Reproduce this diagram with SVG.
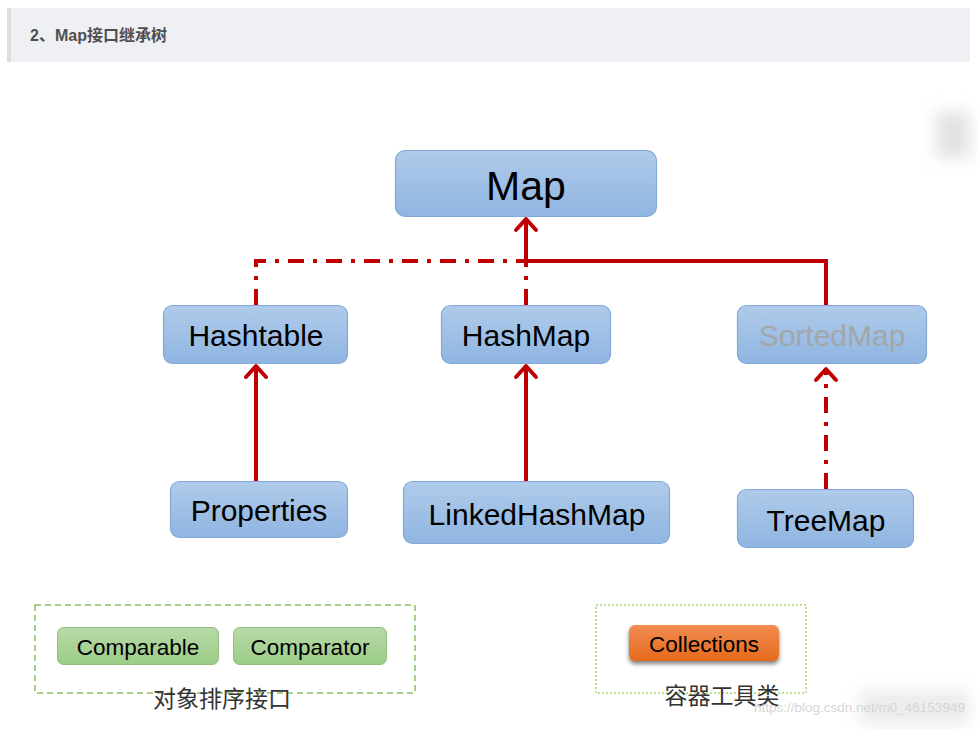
<svg xmlns="http://www.w3.org/2000/svg" width="977" height="729" viewBox="0 0 977 729">
<defs>
<linearGradient id="blue" x1="0" y1="0" x2="0" y2="1"><stop offset="0" stop-color="#b0cbea"/><stop offset="1" stop-color="#8fb5e1"/></linearGradient>
<linearGradient id="green" x1="0" y1="0" x2="0" y2="1"><stop offset="0" stop-color="#b7daa8"/><stop offset="1" stop-color="#9ccc87"/></linearGradient>
<linearGradient id="orange" x1="0" y1="0" x2="0" y2="1"><stop offset="0" stop-color="#f28d52"/><stop offset="1" stop-color="#e4691b"/></linearGradient>
<filter id="blur" x="-80%" y="-80%" width="260%" height="260%"><feGaussianBlur stdDeviation="8"/></filter>
<filter id="shadow" x="-20%" y="-30%" width="140%" height="180%"><feGaussianBlur in="SourceAlpha" stdDeviation="2"/><feOffset dx="0" dy="3"/><feComponentTransfer><feFuncA type="linear" slope="0.5"/></feComponentTransfer><feMerge><feMergeNode/><feMergeNode in="SourceGraphic"/></feMerge></filter>
</defs>
<style>
.bn{fill:url(#blue);stroke:#82a9d8;stroke-width:1.2}
.gn{fill:url(#green);stroke:#8fbf7c;stroke-width:1}
.t{font-family:"Liberation Sans",Arial,sans-serif;fill:#000;text-anchor:middle}
.solid{fill:none;stroke:#c00000;stroke-width:4}
.dd{fill:none;stroke:#c00000;stroke-width:4;stroke-dasharray:16 9 4 9}
.head{fill:none;stroke:#c00000;stroke-width:4;stroke-linecap:round;stroke-linejoin:round}
.cjk{font-family:"Noto Sans CJK SC",sans-serif;fill:#333;font-size:23px;text-anchor:middle}
</style>
<rect width="977" height="729" fill="#fff"/>
<g id="header">
<rect x="7" y="8" width="963" height="54" fill="#eff0f4"/>
<rect x="7" y="8" width="4" height="54" fill="#dcdde1"/>
<text x="30" y="41" font-family="'Liberation Sans','Noto Sans CJK SC',sans-serif" font-size="16" font-weight="bold" fill="#4f4f4f">2、Map接口继承树</text>
</g>
<g id="blurspot"><rect x="936" y="112" width="34" height="46" fill="#e2e2e2" filter="url(#blur)"/></g>
<g id="connectors">
<path class="dd" d="M256 305 V261 H526"/>
<path class="dd" d="M526 305 V261"/>
<path class="solid" d="M526 261 V220"/>
<path class="solid" d="M526 261 H826 V305"/>
<path class="solid" d="M256 481 V367"/>
<path class="solid" d="M526 481 V367"/>
<path class="dd" d="M826 489 V370"/>
<path class="head" d="M516 230 L526 219 L536 230"/>
<path class="head" d="M246 377 L256 366 L266 377"/>
<path class="head" d="M516 377 L526 366 L536 377"/>
<path class="head" d="M816 380 L826 369 L836 380"/>
</g>
<g id="Map"><rect class="bn" x="395.5" y="150.5" width="261" height="66" rx="10"/><text class="t" x="526" y="200" font-size="41">Map</text></g>
<g id="Hashtable"><rect class="bn" x="163.5" y="305.5" width="184" height="58" rx="9"/><text class="t" x="256" y="346" font-size="30">Hashtable</text></g>
<g id="HashMap"><rect class="bn" x="441.5" y="305.5" width="169" height="58" rx="9"/><text class="t" x="526" y="346" font-size="30">HashMap</text></g>
<g id="SortedMap"><rect class="bn" x="737.5" y="305.5" width="189" height="58" rx="9"/><text class="t" x="832" y="346" font-size="30" style="fill:#a3a6ab">SortedMap</text></g>
<g id="Properties"><rect class="bn" x="170.5" y="481.5" width="177" height="56" rx="9"/><text class="t" x="259" y="521" font-size="30">Properties</text></g>
<g id="LinkedHashMap"><rect class="bn" x="403.5" y="481.5" width="266" height="62" rx="9"/><text class="t" x="537" y="525" font-size="30">LinkedHashMap</text></g>
<g id="TreeMap"><rect class="bn" x="737.5" y="489.5" width="176" height="58" rx="9"/><text class="t" x="826" y="531" font-size="30">TreeMap</text></g>
<g id="sortGroup">
<rect x="35" y="605" width="380" height="88" fill="none" stroke="#8cc168" stroke-width="1.6" stroke-dasharray="6 4"/>
<rect class="gn" x="57.5" y="627.5" width="161" height="37" rx="6"/><text class="t" x="138" y="655" font-size="22.5">Comparable</text>
<rect class="gn" x="233.5" y="627.5" width="153" height="37" rx="6"/><text class="t" x="310" y="655" font-size="22.5">Comparator</text>
<text class="cjk" x="222" y="707">对象排序接口</text>
</g>
<g id="toolGroup">
<rect x="596" y="605" width="210" height="88" fill="none" stroke="#a6d872" stroke-width="1.5" stroke-dasharray="2 2"/>
<rect x="629" y="625" width="150" height="36" rx="6" fill="url(#orange)" filter="url(#shadow)"/>
<text class="t" x="704" y="652" font-size="22.5">Collections</text>
<text class="cjk" x="722" y="704">容器工具类</text>
</g>
<g id="watermark">
<rect x="860" y="690" width="110" height="35" fill="#e4e4e4" filter="url(#blur)" opacity="0.7"/>
<text x="754" y="712" font-family="'Liberation Sans',Arial,sans-serif" font-size="13.5" fill="#d6d6d6">https://blog.csdn.net/m0_46153949</text>
</g>
</svg>
